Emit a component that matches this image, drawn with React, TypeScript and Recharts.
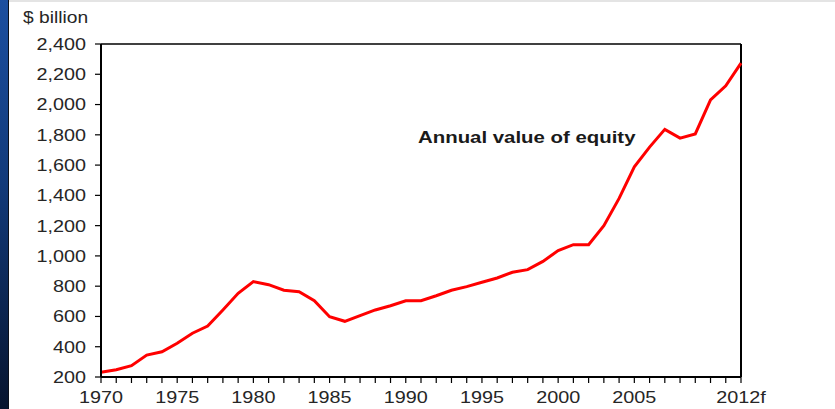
import React from 'react';
import { LineChart, Line, XAxis, YAxis, ReferenceLine, Customized } from 'recharts';

const years: number[] = [
  1970, 1971, 1972, 1973, 1974, 1975, 1976, 1977, 1978, 1979,
  1980, 1981, 1982, 1983, 1984, 1985, 1986, 1987, 1988, 1989,
  1990, 1991, 1992, 1993, 1994, 1995, 1996, 1997, 1998, 1999,
  2000, 2001, 2002, 2003, 2004, 2005, 2006, 2007, 2008, 2009,
  2010, 2011, 2012,
];

const equityValues: number[] = [
  231, 248, 275, 345, 367, 423, 489, 537, 643, 753,
  830, 810, 773, 764, 704, 598, 568, 605, 643, 671,
  704, 704, 737, 773, 797, 826, 854, 892, 909, 964,
  1035, 1074, 1074, 1200, 1380, 1588, 1719, 1836, 1778, 1806,
  2030, 2124, 2274,
];

const xLabelYears: number[] = [1970, 1975, 1980, 1985, 1990, 1995, 2000, 2005, 2012];
const xLabelTexts: string[] = ['1970', '1975', '1980', '1985', '1990', '1995', '2000', '2005', '2012f'];
const yTicks: number[] = [200, 400, 600, 800, 1000, 1200, 1400, 1600, 1800, 2000, 2200, 2400];

const seriesName = 'Annual value of equity';
const unitLabel = '$ billion';

const data = years.map((y, i) => ({ year: y, value: equityValues[i] }));

const FONT = '"Liberation Sans", Arial, sans-serif';
const TEXT_COLOR = '#262626';
const SX = 1.2;

const YTick = (props: any) => {
  const { x, y, payload } = props;
  return (
    <g transform={`translate(${x},${y}) scale(${SX},1)`}>
      <text x={0} y={0} dy="0.355em" textAnchor="end" fontFamily={FONT} fontSize={16.5} fill={TEXT_COLOR}>
        {payload.value.toLocaleString('en-US')}
      </text>
    </g>
  );
};

const XTick = (props: any) => {
  const { x, y, payload } = props;
  const idx = xLabelYears.indexOf(payload.value);
  if (idx < 0) return <g />;
  return (
    <g transform={`translate(${x},${y}) scale(${SX},1)`}>
      <text x={0} y={0} dy="0.71em" textAnchor="middle" fontFamily={FONT} fontSize={16.5} fill={TEXT_COLOR}>
        {xLabelTexts[idx]}
      </text>
    </g>
  );
};

const Annotations = () => (
  <g>
    <g transform={`translate(23,23.3) scale(${SX},1)`}>
      <text x={0} y={0} fontFamily={FONT} fontSize={16} fill={TEXT_COLOR}>{unitLabel}</text>
    </g>
    <g transform={`translate(418,143) scale(${SX},1)`}>
      <text x={0} y={0} fontFamily={FONT} fontSize={17} fontWeight="bold" fill="#1a1a1a">{seriesName}</text>
    </g>
  </g>
);

export default function App() {
  return (
    <div style={{ position: 'absolute', left: 0, top: 0, width: 835, height: 409, background: '#ffffff', overflow: 'hidden' }}>
      <div style={{ position: 'absolute', left: 0, top: 0, width: 8, height: 409, background: 'linear-gradient(to bottom, #1c4fa0 0%, #123a7a 45%, #07142e 100%)' }} />
      <div style={{ position: 'absolute', left: 8, top: 0, width: 1, height: 409, background: '#0a0f1a' }} />
      <div style={{ position: 'absolute', left: 9, top: 0, width: 826, height: 2, background: '#e4e4e4' }} />
      <div style={{ position: 'absolute', left: 0, top: 0 }}>
        <LineChart width={835} height={409} data={data} margin={{ top: 44, right: 94, bottom: 0, left: 0 }}>
          <XAxis
            dataKey="year"
            type="number"
            domain={[1970, 2012]}
            ticks={years}
            interval={0}
            tick={<XTick />}
            tickSize={6}
            tickMargin={8}
            height={32}
            axisLine={{ stroke: '#000', strokeWidth: 2 }}
            tickLine={{ stroke: '#000', strokeWidth: 1.2 }}
          />
          <YAxis
            type="number"
            domain={[200, 2400]}
            ticks={yTicks}
            interval={0}
            width={101}
            tick={<YTick />}
            tickSize={6}
            tickMargin={9}
            axisLine={{ stroke: '#000', strokeWidth: 2 }}
            tickLine={{ stroke: '#000', strokeWidth: 1.2 }}
          />
          <ReferenceLine y={2400} stroke="#000" strokeWidth={1.5} ifOverflow="visible" />
          <ReferenceLine x={2012} stroke="#000" strokeWidth={2} ifOverflow="visible" />
          <Line
            type="linear"
            dataKey="value"
            stroke="#ff0000"
            strokeWidth={3}
            dot={false}
            isAnimationActive={false}
          />
          <Customized component={Annotations} />
        </LineChart>
      </div>
    </div>
  );
}
